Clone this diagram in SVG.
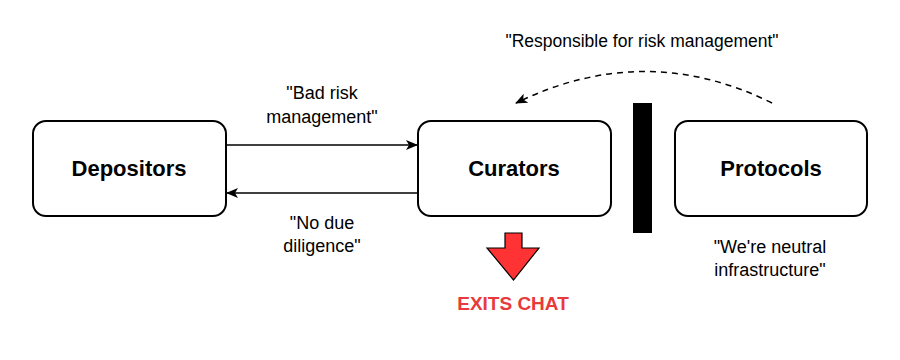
<svg xmlns="http://www.w3.org/2000/svg" width="900" height="360" viewBox="0 0 900 360">
<defs>
<style>
.box{fill:#fff;stroke:#000;stroke-width:2}
.nl{font-family:"Liberation Sans",Arial,sans-serif;font-weight:bold;font-size:22px;text-anchor:middle;fill:#000}
.lb{font-family:"Liberation Sans",Arial,sans-serif;font-size:18px;text-anchor:middle;fill:#000}
.ln{fill:none;stroke:#000;stroke-width:1.5}
</style>
<marker id="ah" markerWidth="12" markerHeight="10" refX="11" refY="5" orient="auto" markerUnits="userSpaceOnUse">
<path d="M0,0 L12,5 L0,10 L3,5 Z" fill="#000"/>
</marker>
</defs>
<rect width="900" height="360" fill="#fff"/>
<g id="depositors">
<rect class="box" x="33" y="121" width="193" height="95" rx="13"/>
<text class="nl" x="129" y="176">Depositors</text>
</g>
<g id="curators">
<rect class="box" x="418" y="121" width="193" height="95" rx="13"/>
<text class="nl" x="514" y="176">Curators</text>
</g>
<g id="protocols">
<rect class="box" x="675" y="121" width="192" height="95" rx="13"/>
<text class="nl" x="771" y="176">Protocols</text>
</g>
<g id="barrier">
<rect x="633" y="103" width="19" height="130" fill="#000"/>
</g>
<g id="exit">
<path d="M505,233 H522 V248 H539 L513.5,280 L487,248 H505 Z" fill="#f33" stroke="#000" stroke-width="1.2"/>
<text x="513" y="310" font-family="'Liberation Sans',Arial,sans-serif" font-weight="bold" font-size="19" text-anchor="middle" fill="#e83a3a">EXITS CHAT</text>
</g>
<g id="connectors">
<line class="ln" x1="226" y1="145" x2="417" y2="145" marker-end="url(#ah)"/>
<line class="ln" x1="418" y1="193" x2="227" y2="193" marker-end="url(#ah)"/>
<path class="ln" d="M772,103 Q645,40 516,103" stroke-dasharray="6,5" marker-end="url(#ah)"/>
</g>
<g id="labels">
<text class="lb" x="322" y="99">"Bad risk</text>
<text class="lb" x="322" y="123">management"</text>
<text class="lb" x="322" y="229">"No due</text>
<text class="lb" x="322" y="252">diligence"</text>
<text class="lb" x="642" y="47" style="font-size:17.5px">"Responsible for risk management"</text>
<text class="lb" x="770" y="253">"We're neutral</text>
<text class="lb" x="770" y="276">infrastructure"</text>
</g>
</svg>
